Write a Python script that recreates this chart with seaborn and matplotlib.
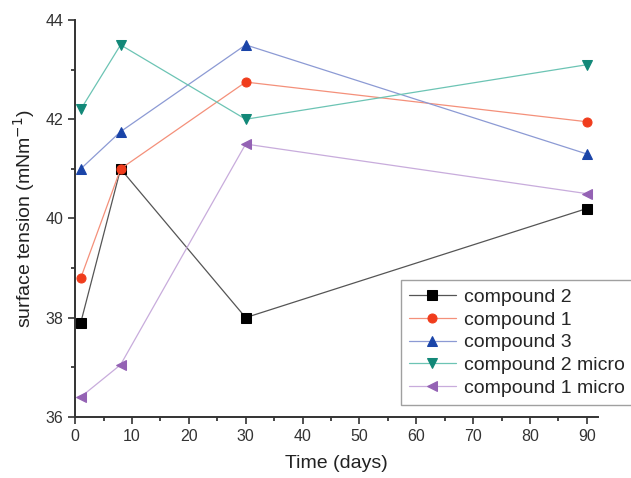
import pandas as pd
import seaborn as sns
import matplotlib.pyplot as plt
from matplotlib.ticker import MultipleLocator

## data
days = [1, 8, 30, 90]
compound_2 = [37.9, 41.0, 38.0, 40.2]
compound_1 = [38.8, 41.0, 42.75, 41.95]
compound_3 = [41.0, 41.75, 43.5, 41.3]
compound_2_micro = [42.2, 43.5, 42.0, 43.1]
compound_1_micro = [36.4, 37.05, 41.5, 40.5]

names = ["compound 2", "compound 1", "compound 3", "compound 2 micro", "compound 1 micro"]
series = [compound_2, compound_1, compound_3, compound_2_micro, compound_1_micro]

## style: (line colour, marker colour, marker)
styles = [
    ("#555555", "#000000", "s"),
    ("#f4907a", "#f03c1c", "o"),
    ("#8c9ad4", "#1a44a8", "^"),
    ("#6cc4b4", "#128878", "v"),
    ("#c8acdc", "#9462b4", "<"),
]

df = pd.concat([pd.DataFrame({"day": days, "value": s, "name": n})
                for n, s in zip(names, series)], ignore_index=True)

sns.set_style("ticks")
plt.rcParams['font.family'] = ['Liberation Sans', 'DejaVu Sans']

fig = plt.figure(figsize=(6.31, 4.78), dpi=100)
ax = fig.add_axes([0.119, 0.128, 0.829, 0.830])

for n, (lc, mc, mk) in zip(names, styles):
    sub = df[df["name"] == n]
    sns.lineplot(data=sub, x="day", y="value", ax=ax, color=lc, linewidth=0.9,
                 marker=mk, markersize=6.5, markerfacecolor=mc, markeredgecolor=mc,
                 label=n)

ax.set_xlim(0, 92)
ax.set_ylim(36, 44)
ax.xaxis.set_major_locator(MultipleLocator(10))
ax.xaxis.set_minor_locator(MultipleLocator(5))
ax.yaxis.set_major_locator(MultipleLocator(2))
ax.yaxis.set_minor_locator(MultipleLocator(1))
ax.tick_params(which="major", length=5, width=1.2, direction="out", labelsize=11.5, colors="#333333")
ax.tick_params(which="minor", length=3, width=1.2, direction="out")
for side in ["top", "right"]:
    ax.spines[side].set_visible(False)
for side in ["left", "bottom"]:
    ax.spines[side].set_linewidth(1.4)
    ax.spines[side].set_color("#333333")

ax.set_xlabel("Time (days)", fontsize=14, color="#222222", labelpad=8)
ax.set_ylabel("surface tension (mNm$^{-1}$)", fontsize=14, color="#222222", labelpad=6)

leg = ax.legend(loc="lower right", bbox_to_anchor=(1.065, 0.03), borderaxespad=0,
                fontsize=14, frameon=True, fancybox=False, edgecolor="#888888",
                handlelength=2.4, handletextpad=0.4, labelspacing=0.27, borderpad=0.4)
leg.get_frame().set_linewidth(1.0)

plt.savefig("out.png", dpi=100)
